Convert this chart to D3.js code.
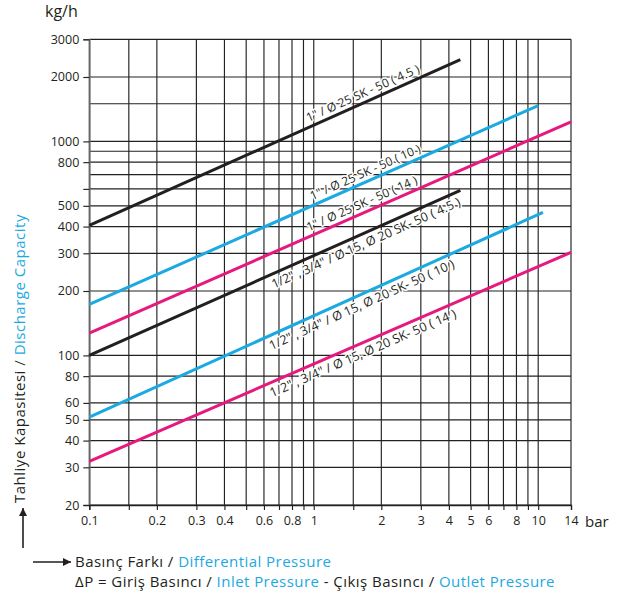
<!DOCTYPE html>
<html><head><meta charset="utf-8">
<script src="https://cdn.jsdelivr.net/npm/d3@7"></script>
<style>body{margin:0;background:#fff}svg{display:block;font-family:'Open Sans',sans-serif}</style>
</head><body><svg id="c" width="628" height="599"></svg>
<script>
// ---- data ----
const yTickValues = [3000,2000,1000,800,500,400,300,200,100,80,60,50,40,30,20];
const yMarkedValues = [3000,2000,1000,800,600,500,400,300,200,100,80,60,50,40,30,20];
const yGridValues = [3000,2000,1500,1000,900,800,700,600,500,400,300,200,100,80,60,50,40,30,20];
const xTickValues = [0.1,0.2,0.3,0.4,0.6,0.8,1,2,3,4,5,6,8,10,14];
const xGridValues = [0.1,0.15,0.2,0.3,0.4,0.5,0.6,0.7,0.8,0.9,1,1.5,2,3,4,5,6,7,8,9,10,14];
const seriesLabels = [
  '1" / Ø 25 SK - 50 ( 4.5 )',
  '1" / Ø 25 SK - 50 ( 10 )',
  '1" / Ø 25 SK - 50 ( 14 )',
  '1/2" , 3/4" / Ø 15, Ø 20 SK- 50 ( 4.5 )',
  '1/2" , 3/4" / Ø 15, Ø 20 SK- 50 ( 10 )',
  '1/2" , 3/4" / Ø 15, Ø 20 SK- 50 ( 14 )'
];
const seriesPressure = [[0.1,4.5],[0.1,10],[0.1,14],[0.1,4.5],[0.1,10.5],[0.1,14]];
const seriesCapacity = [[405,2410],[173,1470],[127,1235],[100,590],[51.5,466],[32,303]];
const seriesColors = ["#231f20","#1ba9e1","#e5197e","#231f20","#1ba9e1","#e5197e"];

// ---- layout ----
const BLUE = "#1ba9e1", INK = "#231f20";
const svg = d3.select("#c");
const x = d3.scaleLog().domain([0.1, 14]).range([89.3, 571]);
const y = d3.scaleLog().domain([20, 3000]).range([505, 39.3]);
const x0 = x.range()[0], x1 = x.range()[1], yb = y.range()[0], yt = y.range()[1];

// gridlines
const grid = svg.append("g").attr("stroke", "#222").attr("stroke-width", 1.15);
grid.selectAll("line.h").data(yGridValues).join("line").attr("class","h")
  .attr("x1", x0).attr("x2", x1).attr("y1", d => y(d)).attr("y2", d => y(d));
grid.selectAll("line.v").data(xGridValues).join("line").attr("class","v")
  .attr("y1", yt).attr("y2", yb).attr("x1", d => x(d)).attr("x2", d => x(d));

// axes
const yAxis = d3.axisLeft(y).tickValues(yMarkedValues).tickSize(6).tickPadding(4)
  .tickFormat(d => yTickValues.includes(d) ? d : "");
const gy = svg.append("g").attr("transform", `translate(${x0},0)`).call(yAxis);
gy.select(".domain").attr("stroke", "#666").attr("stroke-width", 1.6);
gy.selectAll(".tick line").attr("stroke", "#222").attr("stroke-width", 1.15);
gy.selectAll(".tick text").attr("font-size", 12.5).attr("fill", INK).attr("font-family", "'Open Sans',sans-serif");

const xAxis = d3.axisBottom(x).tickValues(xGridValues).tickSize(5).tickPadding(6)
  .tickFormat(d => xTickValues.includes(d) ? d : "");
const gx = svg.append("g").attr("transform", `translate(0,${yb})`).call(xAxis);
gx.select(".domain").attr("stroke", "#222").attr("stroke-width", 1.3);
gx.selectAll(".tick line").attr("stroke", "#222").attr("stroke-width", 1.15);
gx.selectAll(".tick text").attr("font-size", 12.5).attr("fill", INK).attr("font-family", "'Open Sans',sans-serif");

// axis unit labels
svg.append("text").attr("x", 45).attr("y", 17).attr("font-size", 16).attr("fill", INK).text("kg/h");
svg.append("text").attr("x", 585).attr("y", 527).attr("font-size", 15).attr("fill", INK).text("bar");

// series lines
const line = d3.line().x(d => x(d[0])).y(d => y(d[1]));
const series = seriesLabels.map((lab, i) => ({
  label: lab, color: seriesColors[i],
  pts: seriesPressure[i].map((p, j) => [p, seriesCapacity[i][j]])
}));
svg.append("g").selectAll("path").data(series).join("path")
  .attr("d", d => line(d.pts)).attr("fill", "none")
  .attr("stroke", d => d.color).attr("stroke-width", 3);

// line labels (center pressure, above/below)
const labelAt = [1.72, 1.76, 1.70, 1.64, 1.57, 1.59];
const labelDy = [-5, -5, -5, 14, 14, 14];
const labelSize = [12, 12, 12, 12.6, 12.6, 12.6];
series.forEach((s, i) => {
  const [p0, p1] = s.pts;
  const ang = Math.atan2(y(p1[1]) - y(p0[1]), x(p1[0]) - x(p0[0])) * 180 / Math.PI;
  const t = (Math.log(labelAt[i]) - Math.log(p0[0])) / (Math.log(p1[0]) - Math.log(p0[0]));
  const cap = Math.exp(Math.log(p0[1]) + t * (Math.log(p1[1]) - Math.log(p0[1])));
  svg.append("text")
    .attr("transform", `translate(${x(labelAt[i])},${y(cap)}) rotate(${ang})`)
    .attr("text-anchor", "middle").attr("dy", labelDy[i])
    .attr("font-size", labelSize[i]).attr("fill", INK)
    .attr("stroke", "#fff").attr("stroke-width", 3).attr("paint-order", "stroke")
    .attr("stroke-linejoin", "round")
    .text(s.label);
});

// arrow marker
const defs = svg.append("defs");
defs.append("marker").attr("id", "ah").attr("viewBox", "0 0 10 10").attr("refX", 10).attr("refY", 5)
  .attr("markerWidth", 10).attr("markerHeight", 8).attr("markerUnits", "userSpaceOnUse").attr("orient", "auto")
  .append("path").attr("d", "M0,0L10,5L0,10z").attr("fill", INK);

// vertical axis title
svg.append("line").attr("x1", 23).attr("x2", 23).attr("y1", 548).attr("y2", 508)
  .attr("stroke", INK).attr("stroke-width", 1.6).attr("marker-end", "url(#ah)");
const vt = svg.append("text").attr("transform", "translate(25,503) rotate(-90)")
  .attr("font-size", 15).attr("letter-spacing", 0.5).attr("fill", INK);
vt.append("tspan").text("Tahliye Kapasitesi / ");
vt.append("tspan").attr("fill", BLUE).text("Discharge Capacity");

// horizontal axis title
svg.append("line").attr("x1", 33).attr("x2", 71).attr("y1", 562).attr("y2", 562)
  .attr("stroke", INK).attr("stroke-width", 1.6).attr("marker-end", "url(#ah)");
const t1 = svg.append("text").attr("x", 75).attr("y", 567).attr("font-size", 15)
  .attr("letter-spacing", 0.45).attr("fill", INK);
t1.append("tspan").text("Basınç Farkı / ");
t1.append("tspan").attr("fill", BLUE).text("Differential Pressure");
const t2 = svg.append("text").attr("x", 75).attr("y", 587).attr("font-size", 15)
  .attr("letter-spacing", 0.45).attr("fill", INK);
t2.append("tspan").text("ΔP = Giriş Basıncı / ");
t2.append("tspan").attr("fill", BLUE).text("Inlet Pressure");
t2.append("tspan").text(" - Çıkış Basıncı / ");
t2.append("tspan").attr("fill", BLUE).text("Outlet Pressure");
</script></body></html>
